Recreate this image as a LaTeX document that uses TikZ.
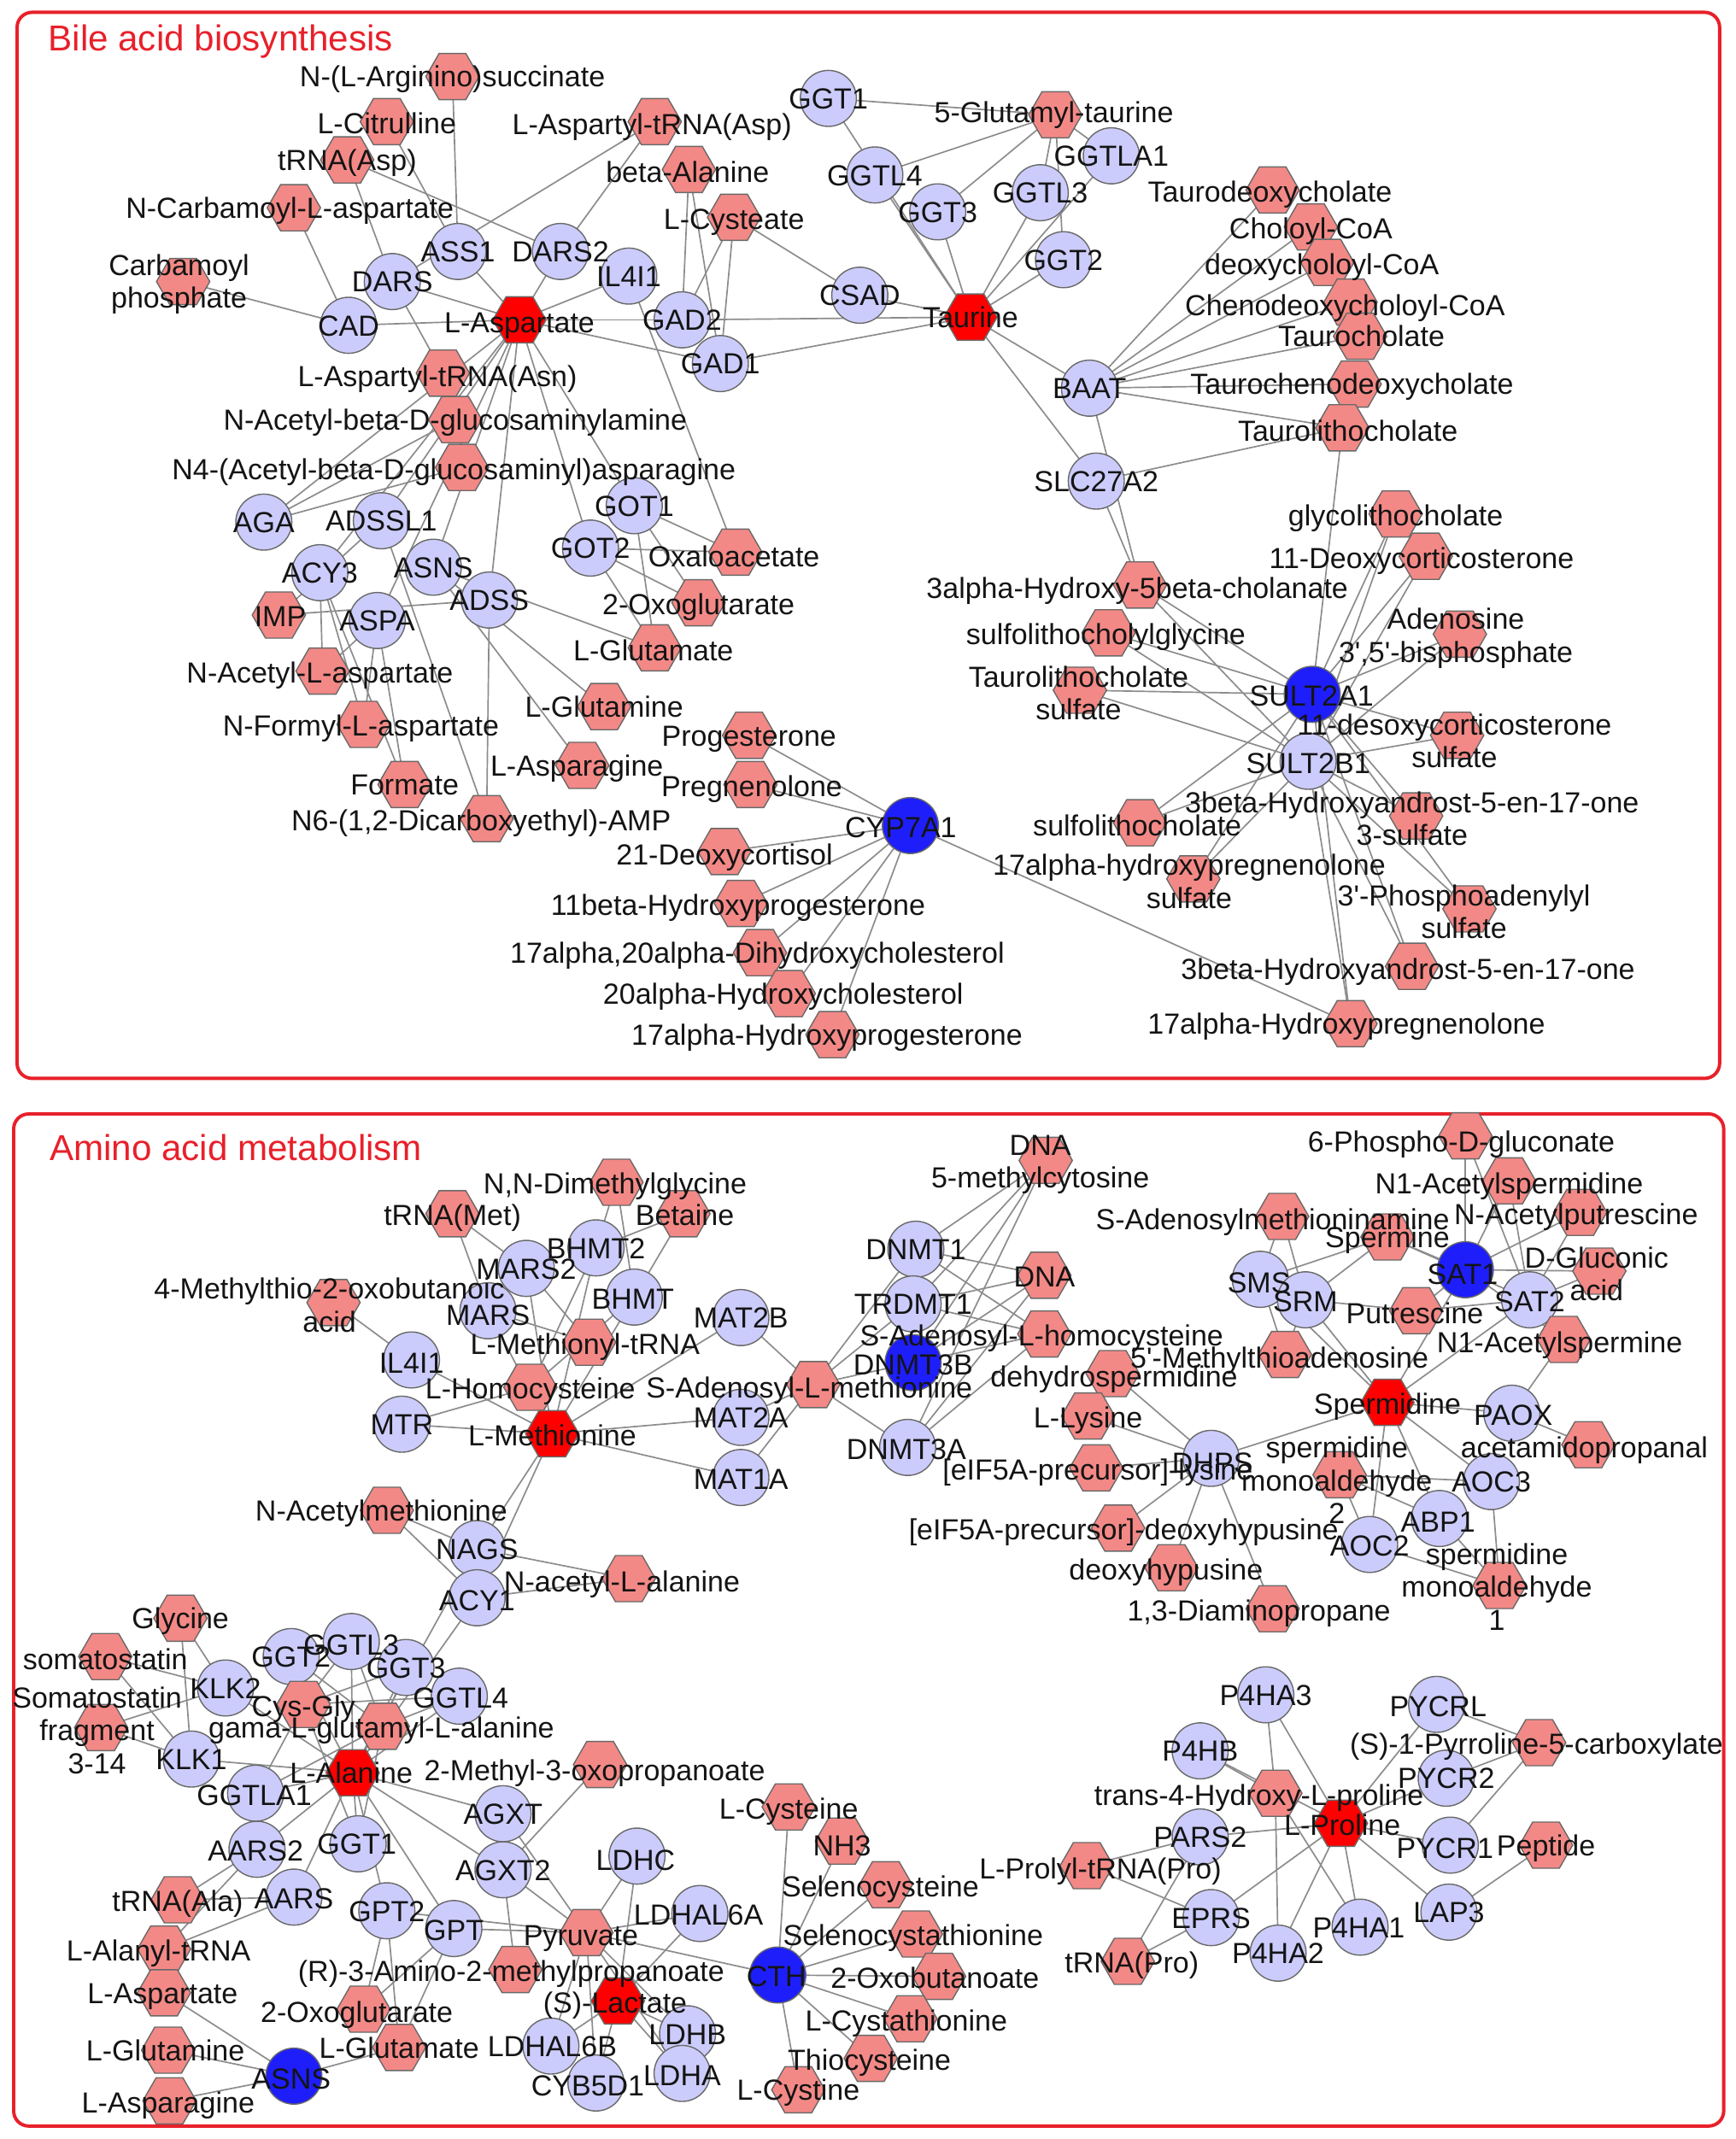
\documentclass[tikz,border=0pt]{standalone}
\usepackage{fontspec}
\setmainfont{Liberation Sans}
\usetikzlibrary{shapes.geometric}
\pgfdeclarelayer{edges}
\pgfdeclarelayer{labels}
\pgfsetlayers{edges,main,labels}
\definecolor{hexfill}{RGB}{243,137,134}
\definecolor{hubred}{RGB}{255,0,0}
\definecolor{genefill}{RGB}{204,204,252}
\definecolor{geneblue}{RGB}{30,30,250}
\definecolor{nodeline}{RGB}{105,105,105}
\definecolor{edgegray}{RGB}{140,140,140}
\definecolor{framered}{RGB}{232,32,42}
\newcommand\lblfont{\fontsize{12.1}{13.7}\selectfont}
\newcommand\apos{\textquotesingle}
\tikzset{
  hexn/.style={regular polygon, regular polygon sides=6, minimum size=0.78cm, inner sep=0pt, draw=nodeline, line width=0.5pt, fill=hexfill},
  hexr/.style={hexn, fill=hubred},
  gene/.style={circle, minimum size=0.82cm, inner sep=0pt, draw=nodeline, line width=0.5pt, fill=genefill},
  geneb/.style={gene, fill=geneblue},
  lbl/.style={font=\lblfont, inner sep=0pt, text height=8.7pt, text depth=0pt, text=black!92},
  lblm/.style={font=\lblfont, inner sep=0pt, align=center, text=black!92},
  edge/.style={draw=edgegray, line width=0.6pt},
  frame/.style={draw=framered, line width=1.4pt, rounded corners=0.22cm},
  ttl/.style={font=\fontsize{15}{18}\selectfont, text=framered, inner sep=0pt, anchor=base west}
}
\newcommand\mkn[5]{\node[#1] (#2) at (#3,#4) {};%
  \begin{pgfonlayer}{labels}\node[lbl] (#2-t) at (#3,#4) {#5};\end{pgfonlayer}}
\newcommand\mknl[7]{\node[#1] (#2) at (#3,#4) {};%
  \begin{pgfonlayer}{labels}\node[lbl] (#2-t) at (#5,#6) {#7};\end{pgfonlayer}}
\newcommand\mknm[7]{\node[#1] (#2) at (#3,#4) {};%
  \begin{pgfonlayer}{labels}\node[lblm] (#2-t) at (#5,#6) {#7};\end{pgfonlayer}}
\begin{document}
\begin{tikzpicture}[x=0.02cm,y=-0.02cm]
\useasboundingbox (0,0) rectangle (1270,1565);
\draw[frame] (12.5,9) rectangle (1258,789);
\draw[frame] (10,815) rectangle (1261,1555.5);
\node[ttl] (title1) at (35,37.5) {Bile acid biosynthesis};
\node[ttl] (title2) at (36,849) {Amino acid metabolism};

% ---------------- top panel ----------------
\mkn{hexn}{argsuc}{331}{56}{N-(L-Arginino)succinate}
\mknl{hexn}{citr}{283}{89}{283}{90}{L-Citrulline}
\mkn{hexn}{trnaasp}{254}{117}{tRNA(Asp)}
\mknl{hexn}{ncarb}{215}{152}{212}{152}{N-Carbamoyl-L-aspartate}
\mknm{hexn}{carbp}{134}{206}{131}{208}{Carbamoyl\\phosphate}
\mkn{gene}{ass1}{335}{184}{ASS1}
\mkn{gene}{dars2}{410}{184}{DARS2}
\mkn{gene}{dars}{287}{206}{DARS}
\mkn{gene}{cad}{255}{238}{CAD}
\mknl{hexr}{asp}{380}{234}{380}{236}{L-Aspartate}
\mknl{hexn}{asptrnaasn}{324}{273}{320}{275}{L-Aspartyl-tRNA(Asn)}
\mkn{hexn}{nacglcn}{333}{307}{N-Acetyl-beta-D-glucosaminylamine}
\mknl{hexn}{nfour}{338}{342}{332}{343}{N4-(Acetyl-beta-D-glucosaminyl)asparagine}
\mkn{gene}{aga}{193}{382}{AGA}
\mkn{gene}{adssla}{279}{381}{ADSSL1}
\mkn{gene}{ilfoura}{460}{202}{IL4I1}
\mknl{hexn}{asptrnaasp}{479}{89}{477}{91}{L-Aspartyl-tRNA(Asp)}
\mknl{hexn}{bala}{504}{124}{503}{126}{beta-Alanine}
\mknl{hexn}{cysteate}{537}{159}{537}{160}{L-Cysteate}
\mkn{gene}{gadtwo}{499}{234}{GAD2}
\mkn{gene}{gadone}{527}{266}{GAD1}
\mkn{gene}{csad}{629}{216}{CSAD}
\mkn{hexr}{taurine}{710}{232}{Taurine}
\mkn{gene}{ggtonea}{606}{72}{GGT1}
\mknl{hexn}{glutau}{772}{84}{771}{82}{5-Glutamyl-taurine}
\mkn{gene}{ggtlaa}{813}{114}{GGTLA1}
\mkn{gene}{ggtlfoura}{640}{128}{GGTL4}
\mkn{gene}{ggtlthreea}{761}{141}{GGTL3}
\mkn{gene}{ggtthreea}{686}{155}{GGT3}
\mkn{gene}{ggttwoa}{778}{190}{GGT2}
\mkn{gene}{baat}{797}{284}{BAAT}
\mkn{gene}{slcgene}{802}{352}{SLC27A2}
\mkn{gene}{gotonea}{464}{370}{GOT1}
\mkn{gene}{gottwo}{432}{401}{GOT2}
\mknl{hexn}{oxal}{538}{404}{537}{407}{Oxaloacetate}
\mknl{hexn}{oxoga}{511}{441}{511}{442}{2-Oxoglutarate}
\mknl{hexn}{glua}{479}{474}{478}{476}{L-Glutamate}
\mkn{hexn}{glna}{442}{517}{L-Glutamine}
\mknl{hexn}{asna}{426}{560}{422}{560}{L-Asparagine}
\mknl{hexn}{tdc}{931}{139}{929}{140}{Taurodeoxycholate}
\mknl{hexn}{chcoa}{959}{166}{959}{167}{Choloyl-CoA}
\mknl{hexn}{dccoa}{971}{192}{967}{193}{deoxycholoyl-CoA}
\mknl{hexn}{cdccoa}{988}{221}{984}{223}{Chenodeoxycholoyl-CoA}
\mknl{hexn}{tc}{995}{246}{996}{246}{Taurocholate}
\mknl{hexn}{tcdc}{991}{281}{989}{281}{Taurochenodeoxycholate}
\mknl{hexn}{tlc}{982}{313}{986}{315}{Taurolithocholate}
\mknl{hexn}{glc}{1021}{376}{1021}{377}{glycolithocholate}
\mknl{hexn}{doc}{1043}{407}{1040}{408}{11-Deoxycorticosterone}
\mknl{hexn}{ahc}{834}{428}{832}{430}{3alpha-Hydroxy-5beta-cholanate}
\mknl{hexn}{slcg}{811}{463}{809}{464}{sulfolithocholylglycine}
\mknm{hexn}{tlcs}{790}{505}{789}{507}{Taurolithocholate\\sulfate}
\mknm{hexn}{pap}{1068}{464}{1065}{467}{Adenosine\\3\apos,5\apos-bisphosphate}
\mknl{geneb}{sulta}{960}{508}{959.5}{509}{SULT2A1}
\mknm{hexn}{docs}{1066}{538}{1064}{542}{11-desoxycorticosterone\\sulfate}
\mknl{gene}{sultb}{957}{557}{957}{558}{SULT2B1}
\mknm{hexn}{dheas}{1036}{597}{1033}{599}{3beta-Hydroxyandrost-5-en-17-one\\3-sulfate}
\mknl{hexn}{lcs}{834}{602}{832}{604}{sulfolithocholate}
\mknm{hexn}{ohps}{873}{643}{870}{645}{17alpha-hydroxypregnenolone\\sulfate}
\mknm{hexn}{paps}{1075}{665}{1071}{667}{3\apos-Phosphoadenylyl\\sulfate}
\mknl{hexn}{dhea}{1033}{707}{1030}{709}{3beta-Hydroxyandrost-5-en-17-one}
\mknl{hexn}{ohp}{988}{749}{985}{749}{17alpha-Hydroxypregnenolone}
\mknl{geneb}{cyp}{666}{604}{659}{605}{CYP7A1}
\mkn{hexn}{prog}{548}{538}{Progesterone}
\mknl{hexn}{preg}{549}{574}{550}{575}{Pregnenolone}
\mknl{hexn}{doxc}{530}{623}{530}{625}{21-Deoxycortisol}
\mknl{hexn}{ohprogb}{542}{661}{540}{662}{11beta-Hydroxyprogesterone}
\mknl{hexn}{dhc}{556}{697}{554}{697}{17alpha,20alpha-Dihydroxycholesterol}
\mknl{hexn}{hctw}{577}{727}{573}{727}{20alpha-Hydroxycholesterol}
\mknl{hexn}{ohprogs}{609}{757}{605}{757}{17alpha-Hydroxyprogesterone}
\mknl{hexn}{imp}{204}{450}{205}{451}{IMP}
\mkn{gene}{acythree}{234}{419}{ACY3}
\mkn{gene}{asnsa}{317}{415}{ASNS}
\mkn{gene}{adss}{358}{439}{ADSS}
\mkn{gene}{aspa}{276}{454}{ASPA}
\mknl{hexn}{naa}{236}{491}{234}{492}{N-Acetyl-L-aspartate}
\mknl{hexn}{nfa}{266}{530}{264}{531}{N-Formyl-L-aspartate}
\mkn{hexn}{formate}{296}{574}{Formate}
\mknl{hexn}{nsix}{356}{599}{352}{600}{N6-(1,2-Dicarboxyethyl)-AMP}

% ---------------- bottom panel ----------------
\mknl{hexn}{trnamet}{331}{888}{331}{889}{tRNA(Met)}
\mkn{gene}{marstwo}{385}{928}{MARS2}
\mknm{hexn}{mtob}{244}{953}{241}{955}{4-Methylthio-2-oxobutanoic\\acid}
\mknl{gene}{mars}{357}{959}{357}{962}{MARS}
\mknl{gene}{ilfourb}{301}{995}{301}{997}{IL4I1}
\mknl{hexn}{hcy}{388}{1015}{388}{1016}{L-Homocysteine}
\mkn{gene}{mtr}{294}{1042}{MTR}
\mknl{hexr}{met}{404}{1049}{404}{1050}{L-Methionine}
\mknl{hexn}{nacmet}{283}{1105}{279}{1105}{N-Acetylmethionine}
\mkn{gene}{nags}{349}{1133}{NAGS}
\mknl{gene}{acyone}{349}{1169}{349}{1171}{ACY1}
\mknl{hexn}{dmg}{451}{865}{450}{866}{N,N-Dimethylglycine}
\mknl{hexn}{betaine}{500}{888}{501}{889}{Betaine}
\mkn{gene}{bhmttwo}{436}{913}{BHMT2}
\mknl{gene}{bhmt}{464}{949}{463}{950}{BHMT}
\mknl{hexn}{mettrna}{431}{982}{428}{983}{L-Methionyl-tRNA}
\mkn{gene}{mattwob}{542}{964}{MAT2B}
\mknl{hexn}{sam}{595}{1013}{592}{1015}{S-Adenosyl-L-methionine}
\mkn{gene}{mattwoa}{542}{1037}{MAT2A}
\mknl{gene}{matonea}{542}{1081}{542}{1082}{MAT1A}
\mknm{hexn}{dnam}{765}{849}{761}{852}{DNA\\5-methylcytosine}
\mkn{gene}{dnmtone}{670}{914}{DNMT1}
\mknl{hexn}{dna}{764}{933}{764}{934}{DNA}
\mkn{gene}{trdmt}{668}{954}{TRDMT1}
\mknl{hexn}{sah}{764}{976}{762}{977}{S-Adenosyl-L-homocysteine}
\mknl{geneb}{dnmtb}{668}{997}{668}{998}{DNMT3B}
\mknl{gene}{dnmta}{664}{1059}{663}{1060}{DNMT3A}
\mknl{hexn}{dhspd}{814}{1005}{815}{1007}{dehydrospermidine}
\mknl{hexn}{lys}{796}{1036}{796}{1037}{L-Lysine}
\mknl{hexn}{eiflys}{802}{1074}{803}{1075}{[eIF5A-precursor]-lysine}
\mknl{hexn}{eifdhp}{818}{1118}{822}{1119}{[eIF5A-precursor]-deoxyhypusine}
\mknl{hexn}{dhp}{857}{1147}{853}{1148}{deoxyhypusine}
\mknl{hexn}{nacala}{460}{1155}{455}{1157}{N-acetyl-L-alanine}
\mknl{hexn}{pgluc}{1072}{831}{1069}{835}{6-Phospho-D-gluconate}
\mknl{hexn}{nacspd}{1104}{864}{1104}{866}{N1-Acetylspermidine}
\mknl{hexn}{nacput}{1156}{887}{1153}{888}{N-Acetylputrescine}
\mknl{hexn}{samine}{938}{890}{931}{892}{S-Adenosylmethioninamine}
\mkn{hexn}{spermine}{1015}{905}{Spermine}
\mknl{geneb}{satone}{1072}{929}{1070}{932}{SAT1}
\mknm{hexn}{glcacid}{1170}{930}{1168}{932}{D-Gluconic\\acid}
\mknl{gene}{sms}{922}{936}{921}{938}{SMS}
\mknl{gene}{srm}{955}{951}{955}{952}{SRM}
\mknl{gene}{sattwo}{1119}{951}{1119}{952}{SAT2}
\mknl{hexn}{put}{1036}{959}{1035}{961}{Putrescine}
\mknl{hexn}{nacspm}{1144}{980}{1141}{982}{N1-Acetylspermine}
\mknl{hexn}{mta}{940}{991}{936}{993}{5\apos-Methylthioadenosine}
\mknl{hexr}{spd}{1015}{1026}{1015}{1027}{Spermidine}
\mknl{gene}{paox}{1106}{1034}{1107}{1035}{PAOX}
\mknl{hexn}{acpr}{1162}{1057}{1159}{1059}{acetamidopropanal}
\mknl{gene}{dhps}{886}{1067}{887}{1070}{DHPS}
\mknm{hexn}{smatwo}{980}{1079}{978}{1083}{spermidine\\monoaldehyde\\2}
\mkn{gene}{aocthree}{1091}{1084}{AOC3}
\mknl{gene}{abp}{1053}{1111}{1052}{1113}{ABP1}
\mknl{gene}{aoctwo}{1002}{1130}{1002}{1131}{AOC2}
\mknm{hexn}{smaone}{1097}{1160}{1095}{1161}{spermidine\\monoaldehyde\\1}
\mknl{hexn}{dap}{931}{1177}{921}{1178}{1,3-Diaminopropane}
\mkn{hexn}{glycine}{132}{1184}{Glycine}
\mknl{hexn}{somat}{77}{1212}{77}{1214}{somatostatin}
\mknm{hexn}{somfrag}{74}{1264}{71}{1266}{Somatostatin\\fragment\\3-14}
\mkn{gene}{klktwo}{165}{1235}{KLK2}
\mkn{gene}{klkone}{140}{1287}{KLK1}
\mkn{gene}{ggttwob}{213}{1212}{GGT2}
\mknl{gene}{ggtlthreeb}{257}{1201}{257}{1203}{GGTL3}
\mkn{gene}{ggtthreeb}{297}{1220}{GGT3}
\mknl{gene}{ggtlfourb}{336}{1241}{337}{1242}{GGTL4}
\mknl{hexn}{cysgly}{222}{1247}{222}{1248}{Cys-Gly}
\mknl{hexn}{gglua}{280}{1263}{279}{1264}{gama-L-glutamyl-L-alanine}
\mknl{hexr}{ala}{258}{1297}{257}{1297}{L-Alanine}
\mknl{gene}{ggtlab}{187}{1312}{186}{1313}{GGTLA1}
\mkn{gene}{agxt}{368}{1327}{AGXT}
\mknl{gene}{aarstwo}{188}{1353}{187}{1354}{AARS2}
\mknl{gene}{ggtoneb}{262}{1349}{261}{1349}{GGT1}
\mkn{gene}{agxttwo}{368}{1368}{AGXT2}
\mknl{hexn}{trnaala}{130}{1390}{130}{1391}{tRNA(Ala)}
\mknl{gene}{aars}{215}{1388}{215}{1389}{AARS}
\mkn{gene}{gpttwo}{283}{1398}{GPT2}
\mknl{gene}{gpt}{332}{1411}{332}{1412}{GPT}
\mknl{hexn}{alatrna}{120}{1426}{116}{1427}{L-Alanyl-tRNA}
\mknl{hexn}{amp}{377}{1441}{374}{1442}{(R)-3-Amino-2-methylpropanoate}
\mknl{hexn}{aspb}{120}{1458}{119}{1458}{L-Aspartate}
\mknl{hexn}{oxogb}{266}{1470}{261}{1472}{2-Oxoglutarate}
\mknl{hexn}{glnb}{123}{1500}{121}{1500}{L-Glutamine}
\mkn{hexn}{glub}{292}{1498}{L-Glutamate}
\mknl{geneb}{asnsb}{215}{1519}{213}{1521}{ASNS}
\mknl{hexn}{asnb}{124}{1537}{123}{1538}{L-Asparagine}
\mknl{hexn}{mop}{439}{1291}{435}{1295}{2-Methyl-3-oxopropanoate}
\mknl{hexn}{cys}{577}{1322}{577}{1323}{L-Cysteine}
\mknl{gene}{ldhc}{466}{1358}{465}{1361}{LDHC}
\mknl{hexn}{nhthree}{616}{1347}{616}{1350}{NH3}
\mknl{hexn}{secys}{648}{1379}{644}{1380}{Selenocysteine}
\mknl{gene}{ldhalsa}{512}{1400}{511}{1401}{LDHAL6A}
\mknl{hexn}{pyr}{429}{1414}{425}{1416}{Pyruvate}
\mknl{hexn}{secysth}{670}{1415}{668}{1416}{Selenocystathionine}
\mknl{geneb}{cth}{569}{1445}{568}{1446}{CTH}
\mknl{hexn}{oxob}{687}{1446}{684}{1447}{2-Oxobutanoate}
\mknl{hexr}{lac}{452}{1464}{450}{1465}{(S)-Lactate}
\mknl{hexn}{cysth}{666}{1477}{663}{1478}{L-Cystathionine}
\mkn{gene}{ldhb}{503}{1488}{LDHB}
\mknl{hexn}{thiocys}{637}{1506}{636}{1507}{Thiocysteine}
\mknl{gene}{ldha}{499}{1517}{499}{1518}{LDHA}
\mknl{gene}{ldhalsb}{403}{1497}{404}{1497}{LDHAL6B}
\mknl{gene}{cybfive}{436}{1524}{430}{1526}{CYB5D1}
\mkn{hexn}{cystine}{584}{1529}{L-Cystine}
\mknl{hexn}{protrna}{795}{1365}{805}{1367}{L-Prolyl-tRNA(Pro)}
\mknl{hexn}{trnapro}{825}{1435}{828}{1436}{tRNA(Pro)}
\mkn{gene}{pfhathree}{926}{1240}{P4HA3}
\mknl{gene}{pycrl}{1051}{1247}{1052}{1248}{PYCRL}
\mkn{gene}{pfhb}{878}{1281}{P4HB}
\mknl{hexn}{pfc}{1126}{1275}{1124}{1276}{(S)-1-Pyrroline-5-carboxylate}
\mkn{gene}{pycrtwo}{1058}{1301}{PYCR2}
\mknl{hexn}{hyp}{933}{1312}{921}{1313}{trans-4-Hydroxy-L-proline}
\mknl{hexr}{pro}{981}{1334}{982}{1335}{L-Proline}
\mkn{gene}{parstwo}{878}{1344}{PARS2}
\mknl{gene}{pycrone}{1061}{1350}{1057}{1352}{PYCR1}
\mkn{hexn}{peptide}{1131}{1350}{Peptide}
\mkn{gene}{eprs}{886}{1403}{EPRS}
\mkn{gene}{lapthree}{1060}{1399}{LAP3}
\mknl{gene}{pfhaone}{995}{1410}{994}{1410}{P4HA1}
\mkn{gene}{pfhatwo}{935}{1429}{P4HA2}

\begin{pgfonlayer}{edges}
\foreach \a/\b in {argsuc/ass1, citr/ass1, ass1/asp, trnaasp/dars, trnaasp/dars2,
  asptrnaasp/dars, asptrnaasp/dars2, dars/asp, dars2/asp, dars/asptrnaasn,
  ncarb/cad, carbp/cad, cad/asp, asp/ilfoura, ilfoura/oxal, asp/gadtwo, asp/gadone,
  bala/gadtwo, bala/gadone, cysteate/gadtwo, cysteate/gadone, cysteate/csad,
  csad/taurine, gadtwo/taurine, gadone/taurine,
  ggtonea/glutau, ggtonea/taurine, ggtlfoura/glutau, ggtlfoura/taurine,
  ggtthreea/glutau, ggtthreea/taurine, ggtlthreea/glutau, ggtlthreea/taurine,
  ggtlaa/glutau, ggtlaa/taurine, ggttwoa/glutau, ggttwoa/taurine,
  taurine/baat, taurine/slcgene, baat/tdc, baat/chcoa, baat/dccoa, baat/cdccoa,
  baat/tc, baat/tcdc, baat/tlc, slcgene/tlc, baat/ahc, slcgene/ahc,
  tlc/sulta, glc/sulta, glc/sultb, doc/sulta, doc/sultb, ahc/sulta, ahc/sultb,
  slcg/sulta, slcg/sultb, tlcs/sulta, tlcs/sultb, pap/sulta, pap/sultb,
  docs/sulta, docs/sultb, dheas/sulta, dheas/sultb, lcs/sulta, lcs/sultb,
  ohps/sulta, ohps/sultb, paps/sulta, paps/sultb, dhea/sulta, dhea/sultb,
  ohp/sulta, ohp/sultb,
  cyp/prog, cyp/preg, cyp/doxc, cyp/ohprogb, cyp/dhc, cyp/hctw, cyp/ohprogs, cyp/ohp,
  aga/nacglcn, aga/nfour, aga/asp, adssla/asp, adssla/imp, adssla/nsix,
  adss/asp, adss/imp, adss/nsix,
  acythree/asp, acythree/naa, acythree/nfa, acythree/formate,
  aspa/asp, aspa/naa, aspa/nfa, aspa/formate,
  asnsa/asp, asnsa/glua, asnsa/glna, asnsa/asna,
  gotonea/asp, gotonea/oxal, gotonea/oxoga, gotonea/glua,
  gottwo/asp, gottwo/oxal, gottwo/oxoga, gottwo/glua}
  {\draw[edge] (\a.center) -- (\b.center);}
\foreach \a/\b in {trnamet/marstwo, trnamet/mars, marstwo/mettrna, mars/mettrna,
  marstwo/met, mars/met, mtob/ilfourb, ilfourb/met, mtr/hcy, mtr/met,
  hcy/bhmttwo, hcy/bhmt, met/bhmttwo, met/bhmt,
  bhmttwo/dmg, bhmt/dmg, bhmttwo/betaine, bhmt/betaine,
  met/mattwob, met/mattwoa, met/matonea, mattwob/sam, mattwoa/sam, matonea/sam,
  sam/dnmtone, sam/trdmt, sam/dnmtb, sam/dnmta,
  dnmtone/dnam, dnmtone/dna, dnmtone/sah, trdmt/dnam, trdmt/dna, trdmt/sah,
  dnmtb/dnam, dnmtb/dna, dnmtb/sah, dnmta/dnam, dnmta/dna, dnmta/sah,
  nacmet/nags, nacmet/acyone, met/nags, met/acyone, nags/nacala, acyone/nacala,
  nags/ala, acyone/ala,
  samine/sms, samine/srm, spermine/sms, spermine/srm, spermine/satone, spermine/sattwo,
  sms/mta, srm/mta, srm/put, sms/spd, srm/spd, put/satone, put/sattwo,
  pgluc/satone, pgluc/sattwo, nacspd/satone, nacspd/sattwo, nacput/satone, nacput/sattwo,
  glcacid/satone, glcacid/sattwo, nacspm/satone, nacspm/sattwo,
  spd/satone, spd/sattwo, spd/paox, paox/nacspm, paox/acpr, spd/aocthree, spd/abp,
  spd/aoctwo, spd/dhps,
  aocthree/smatwo, abp/smatwo, aoctwo/smatwo, aocthree/smaone, abp/smaone, aoctwo/smaone,
  dhps/dhspd, dhps/lys, dhps/eiflys, dhps/eifdhp, dhps/dhp, dhps/dap,
  glycine/klktwo, glycine/klkone, somat/klktwo, somat/klkone, somfrag/klktwo,
  somfrag/klkone, klktwo/ala, klkone/ala,
  ggttwob/cysgly, ggttwob/gglua, ggttwob/ala, ggtlthreeb/cysgly, ggtlthreeb/gglua,
  ggtlthreeb/ala, ggtthreeb/cysgly, ggtthreeb/gglua, ggtthreeb/ala,
  ggtlfourb/cysgly, ggtlfourb/gglua, ggtlfourb/ala, ggtlab/cysgly, ggtlab/gglua,
  ggtlab/ala, ggtoneb/cysgly, ggtoneb/gglua, ggtoneb/ala,
  ala/agxt, ala/agxttwo, ala/aarstwo, ala/aars, ala/gpttwo, ala/gpt,
  aarstwo/trnaala, aarstwo/alatrna, aars/trnaala, aars/alatrna,
  agxt/pyr, agxttwo/pyr, agxttwo/mop, agxttwo/amp,
  gpttwo/pyr, gpt/pyr, gpttwo/oxogb, gpttwo/glub, gpt/oxogb, gpt/glub,
  aspb/asnsb, glnb/asnsb, asnb/asnsb, glub/asnsb,
  pyr/ldhc, pyr/ldhalsa, pyr/ldhb, pyr/ldha, pyr/ldhalsb, pyr/cybfive, pyr/cth,
  lac/ldhc, lac/ldhalsa, lac/ldhb, lac/ldha, lac/ldhalsb, lac/cybfive,
  cth/cys, cth/nhthree, cth/secys, cth/secysth, cth/oxob, cth/cysth, cth/thiocys,
  cth/cystine,
  pfhathree/hyp, pfhathree/pro, pfhb/hyp, pfhb/pro, hyp/pfhatwo, hyp/pfhaone,
  pro/pycrl, pro/pycrtwo, pro/pycrone, pro/parstwo, pro/eprs, pro/pfhatwo,
  pro/pfhaone, pro/lapthree,
  pfc/pycrl, pfc/pycrtwo, pfc/pycrone, peptide/lapthree, parstwo/protrna,
  parstwo/trnapro, eprs/protrna, eprs/trnapro}
  {\draw[edge] (\a.center) -- (\b.center);}
\end{pgfonlayer}
\end{tikzpicture}
\end{document}
